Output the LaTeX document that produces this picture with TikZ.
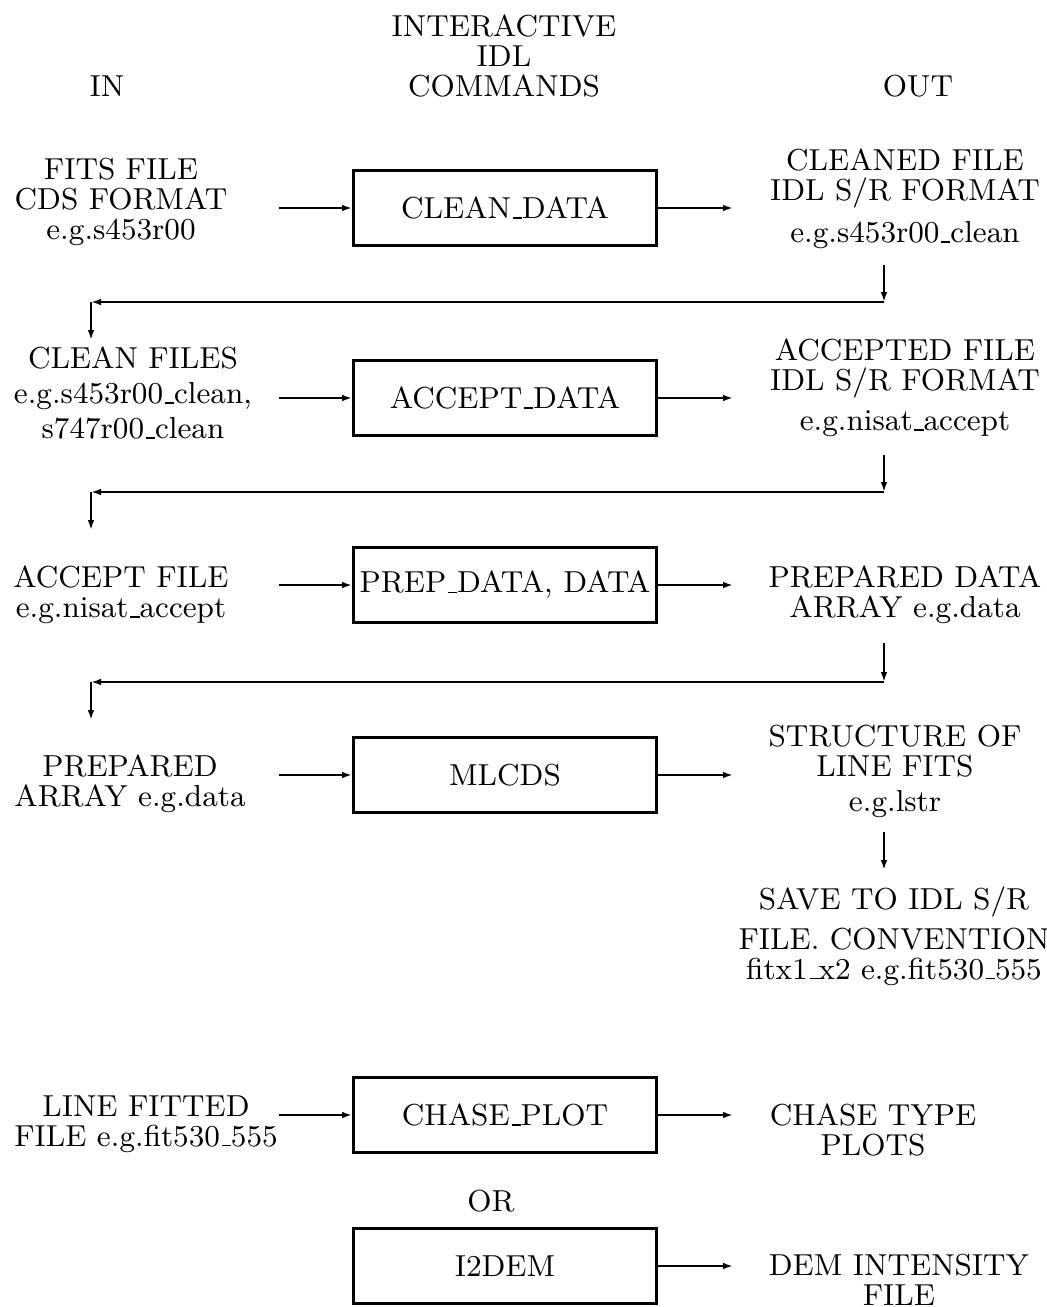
\documentclass[tikz,border=0pt]{standalone}
\usetikzlibrary{arrows.meta}

\newcommand\us{\leavevmode\kern.06em\vbox{\hrule width.3em}}

\tikzset{
  global scale/.style={x=#1pt, y=-#1pt},
  cmdbox/.style={draw, line width=0.9pt, minimum width=90.9pt, minimum height=22.5pt, inner sep=0pt},
  label/.style={align=center, inner sep=0pt},
  flow/.style={line width=0.6pt, -{Latex[length=3pt,width=2pt]}}
}

\begin{document}
\begin{tikzpicture}[global scale = 0.3, font=\fontsize{9.1}{9}\selectfont]
  \useasboundingbox (0,0) rectangle (1047,1307);
  % column heads
  \node[label] (head) at (504,56) {INTERACTIVE\\IDL\\COMMANDS};
  \node[label] (inhead) at (107,86) {IN};
  \node[label] (outhead) at (918,86) {OUT};

  % commands
  \node[cmdbox] (clean) at (505,208) {CLEAN\us DATA};
  \node[cmdbox] (accept) at (505,398) {ACCEPT\us DATA};
  \node[cmdbox] (prep) at (505,585) {PREP\us DATA, DATA};
  \node[cmdbox] (mlcds) at (505,775) {MLCDS};
  \node[cmdbox] (chase) at (505,1115) {CHASE\us PLOT};
  \node[label] (or) at (491,1201) {OR};
  \node[cmdbox] (idem) at (505,1266) {I2DEM};

  % inputs
  \node[label] (fitsin) at (121,202) {FITS FILE\\CDS FORMAT\\e.g.s453r00};
  \node[label] (cleanin) at (133,393) {CLEAN FILES\\[1.5pt]e.g.s453r00\us clean,\\[1.5pt]s747r00\us clean};
  \node[label] (acceptin) at (121,595) {ACCEPT FILE\\e.g.nisat\us accept};
  \node[label] (prepin) at (130,784) {PREPARED\\ARRAY e.g.data};
  \node[label] (fittedin) at (146,1124) {LINE FITTED\\FILE e.g.fit530\us 555};

  % outputs
  \node[label] (cleanout) at (905,199) {CLEANED FILE\\IDL S/R FORMAT\\[3.6pt]e.g.s453r00\us clean};
  \node[label] (acceptout) at (905,388) {ACCEPTED FILE\\IDL S/R FORMAT\\[3pt]e.g.nisat\us accept};
  \node[label] (prepout) at (905,595) {PREPARED DATA\\ARRAY e.g.data};
  \node[label] (lstrout) at (895,771) {STRUCTURE OF\\LINE FITS\\[1.5pt]e.g.lstr};
  \node[label] (saveout) at (894,936) {SAVE TO IDL S/R\\[3pt]FILE.\ CONVENTION\\fitx1\us x2 e.g.fit530\us 555};
  \node[label] (chaseout) at (873,1130) {CHASE TYPE\\PLOTS};
  \node[label] (demout) at (899,1280) {DEM INTENSITY\\FILE};

  \coordinate (instart) at (279,0);
  \coordinate (outend) at (733,0);

  % in and out arrows
  \foreach \cmd in {clean, accept, prep, mlcds, chase}
    \draw[flow] (\cmd.west -| instart) -- (\cmd.west);
  \foreach \cmd in {clean, accept, prep, mlcds, chase, idem}
    \draw[flow] (\cmd.east) -- (\cmd.east -| outend);

  % output fed back as next input
  \foreach \ya/\yb/\yc [count=\i] in {265/302/340, 455/492/530, 643/682/720}{
    \coordinate (drop\i) at (884,\ya);
    \coordinate (bend\i) at (884,\yb);
    \coordinate (back\i) at (91,\yb);
    \coordinate (land\i) at (91,\yc);
    \draw[flow] (drop\i) -- (bend\i);
    \draw[flow] (bend\i) -- (back\i);
    \draw[flow] (back\i) -- (land\i);
  }
  \coordinate (savefrom) at (884,832);
  \coordinate (saveto) at (884,870);
  \draw[flow] (savefrom) -- (saveto);
\end{tikzpicture}
\end{document}
